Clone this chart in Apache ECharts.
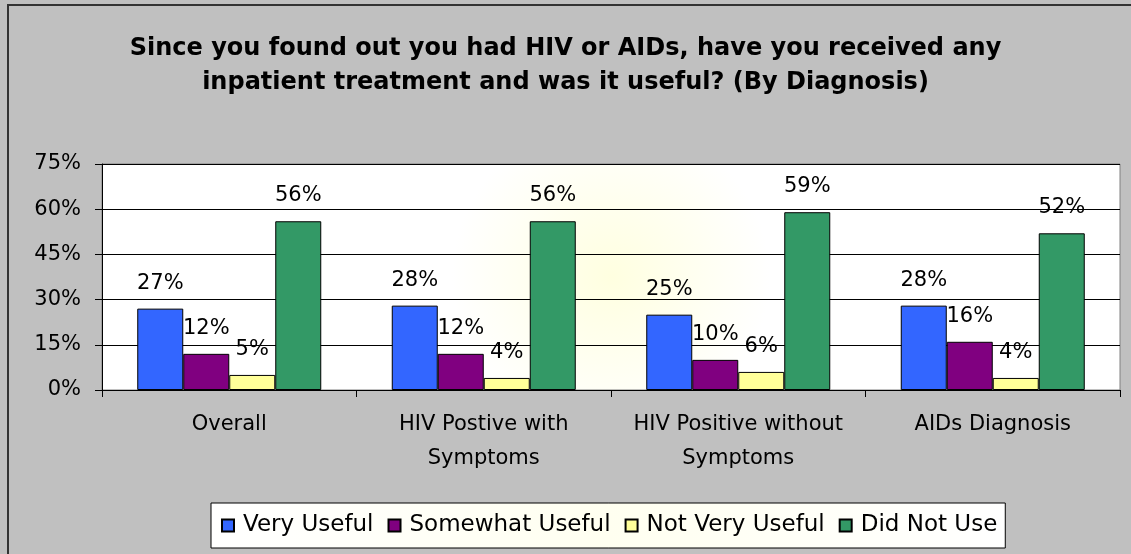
<!DOCTYPE html>
<html>
<head>
<meta charset="utf-8">
<script src="https://cdn.jsdelivr.net/npm/echarts@6/dist/echarts.min.js"></script>
<style>
  html, body { margin: 0; padding: 0; background: #c0c0c0; }
  #main { width: 1131px; height: 554px; }
</style>
</head>
<body>
<div id="main"></div>
<script>
var myChart = echarts.init(document.getElementById('main'));

// categories (x axis)
var categories = ['Overall', 'HIV Postive with\nSymptoms', 'HIV Positive without\nSymptoms', 'AIDs Diagnosis'];
// series values, percent
var veryUseful = [27, 28, 25, 28];
var somewhatUseful = [12, 12, 10, 16];
var notVeryUseful = [5, 4, 6, 4];
var didNotUse = [56, 56, 59, 52];
var seriesNames = ['Very Useful', 'Somewhat Useful', 'Not Very Useful', 'Did Not Use'];
var seriesColors = ['#3366ff', '#800080', '#ffff99', '#339966'];

var font = '"DejaVu Sans", Arial, sans-serif';

function makeBar(name, data, color) {
	return {
		name: name,
		type: 'bar',
		data: data,
		barWidth: 46,
		barGap: '0%',
		itemStyle: {
			color: color,
			borderColor: '#000',
			borderWidth: 1
		},
		label: {
			show: true,
			position: 'top',
			distance: 15,
			formatter: '{c}%',
			color: '#000',
			fontSize: 21,
			fontFamily: font
		}
	};
}

var option = {
	backgroundColor: '#c0c0c0',
	animation: false,
	title: {
		text: 'Since you found out you had HIV or AIDs, have you received any\ninpatient treatment and was it useful? (By Diagnosis)',
		left: 'center',
		top: 27,
		textStyle: {
			fontFamily: font,
			fontSize: 24,
			fontWeight: 'bold',
			color: '#000',
			lineHeight: 34
		}
	},
	graphic: [{
		type: 'rect',
		shape: { x: 8, y: 5, width: 1140, height: 570 },
		style: { fill: 'none', stroke: '#333', lineWidth: 2 },
		silent: true
	}],
	legend: {
		data: seriesNames,
		left: 211,
		top: 503,
		icon: 'rect',
		itemWidth: 12,
		itemHeight: 12,
		itemGap: 14,
		padding: [11, 8, 11, 10],
		backgroundColor: new echarts.graphic.LinearGradient(0, 0, 1, 0, [
			{ offset: 0, color: '#ffffff' },
			{ offset: 0.5, color: '#fffff0' },
			{ offset: 1, color: '#ffffff' }
		]),
		borderColor: '#000',
		borderWidth: 1,
		textStyle: {
			fontFamily: font,
			fontSize: 23,
			color: '#000',
			padding: [0, 0, 0, 4]
		}
	},
	grid: {
		left: 102,
		right: 11,
		top: 164,
		bottom: 164,
		show: true,
		backgroundColor: new echarts.graphic.RadialGradient(0.5, 0.5, 0.7, [
			{ offset: 0, color: '#ffffe0' },
			{ offset: 1, color: '#ffffff' }
		]),
		borderColor: '#808080',
		borderWidth: 1
	},
	xAxis: {
		type: 'category',
		data: categories,
		axisLine: { lineStyle: { color: '#000', width: 1 } },
		axisTick: { show: true, length: 7, lineStyle: { color: '#000' } },
		axisLabel: {
			margin: 18,
			color: '#000',
			fontSize: 21,
			fontFamily: font,
			lineHeight: 34,
			interval: 0
		},
		splitLine: { show: false }
	},
	yAxis: {
		type: 'value',
		min: 0,
		max: 75,
		interval: 15,
		axisLine: { show: true, lineStyle: { color: '#000', width: 1 } },
		axisTick: { show: true, length: 7, lineStyle: { color: '#000' } },
		axisLabel: {
			formatter: '{value}%',
			margin: 21,
			color: '#000',
			fontSize: 21,
			fontFamily: font
		},
		splitLine: { lineStyle: { color: '#000', width: 1 } }
	},
	series: [
		makeBar(seriesNames[0], veryUseful, seriesColors[0]),
		makeBar(seriesNames[1], somewhatUseful, seriesColors[1]),
		makeBar(seriesNames[2], notVeryUseful, seriesColors[2]),
		makeBar(seriesNames[3], didNotUse, seriesColors[3])
	]
};

myChart.setOption(option);
</script>
</body>
</html>
